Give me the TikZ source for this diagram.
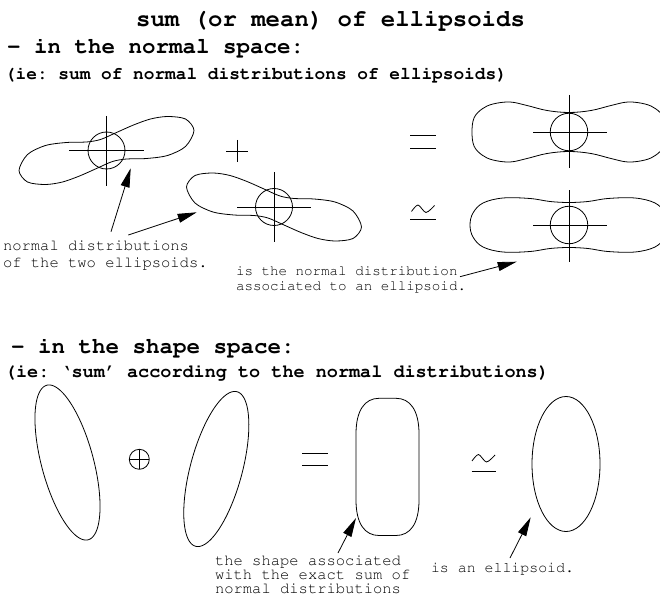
\documentclass[tikz,border=0pt]{standalone}
\usepackage[T1]{fontenc}
\usepackage{courier}
\usetikzlibrary{arrows.meta}
\frenchspacing
\begin{document}
\begin{tikzpicture}[x=1pt,y=-1pt,
  every node/.style={inner sep=0pt, outer sep=0pt},
  titlefont/.style={anchor=base, font=\ttfamily\bfseries\fontsize{24}{28}\selectfont},
  headfont/.style={anchor=base west, font=\ttfamily\bfseries\fontsize{22.5}{27}\selectfont},
  subfont/.style={anchor=base west, font=\ttfamily\bfseries\fontsize{17.8}{21}\selectfont},
  subfontb/.style={anchor=base west, font=\ttfamily\bfseries\fontsize{18.5}{22}\selectfont},
  labA/.style={anchor=base west, font=\ttfamily\fontsize{15.5}{18}\selectfont},
  labB/.style={anchor=base west, font=\ttfamily\fontsize{14.2}{17}\selectfont},
  labC/.style={anchor=base west, font=\ttfamily\fontsize{14.9}{17}\selectfont},
  curve/.style={line width=0.8pt, line join=round},
  axis/.style={line width=0.9pt},
  ptr/.style={line width=0.8pt, -{Triangle[length=19pt,width=9pt]}}
]
\useasboundingbox (0,0) rectangle (660,601);
\clip (0,0) rectangle (660,601);

% ---------- texts ----------
\node[titlefont] (title) at (330.5,27) {sum (or mean) of ellipsoids};
\node[headfont] (h1) at (7,54) {- in the normal space:};
\node[subfont] (s1) at (5,80) {(ie: sum of normal distributions of ellipsoids)};
\node[headfont] (h2) at (11,353) {- in the shape space:};
\node[subfontb] (s2) at (5,377) {(ie: `sum' according to the normal distributions)};

\node[labA] (la1) at (3,251) {normal distributions};
\node[labA] (la2) at (3,267) {of the two ellipsoids.};
\node[labB] (lb1) at (236,276) {is the normal distribution};
\node[labB] (lb2) at (236,290) {associated to an ellipsoid.};
\node[labA] (lc1) at (215,565) {the shape associated};
\node[labA] (lc2) at (215,579) {with the exact sum of};
\node[labA] (lc3) at (215,593) {normal distributions};
\node[labC] (ld1) at (431,572) {is an ellipsoid.};

% ---------- top-left normal distribution ----------
\draw[curve, shift={(106.5,150.5)}] plot[smooth cycle] coordinates {
 (-87.5,20) (-79,4) (-61,-5) (-40,-8) (-20,-8.5) (-6,-11) (10,-18) (27,-25.5)
 (44,-31.5) (61,-34) (79,-31.5) (87.5,-20) (79,-4) (61,5) (40,8) (20,8.5)
 (6,11) (-10,18) (-27,25.5) (-44,31.5) (-61,34) (-79,31.5)};
\node[circle, draw, line width=0.8pt, minimum size=37pt] (c1) at (106.5,150.5) {};
\draw[axis] (69,150.5) -- (144,150.5);
\draw[axis] (106.5,116) -- (106.5,186);

% ---------- middle normal distribution ----------
\draw[curve, shift={(274,207)}] plot[smooth cycle] coordinates {
 (-87.5,-20) (-79,-4) (-61,5) (-40,8) (-20,8.5) (-6,11) (10,18) (27,25.5)
 (44,31.5) (61,34) (79,31.5) (87.5,20) (79,4) (61,-5) (40,-8) (20,-8.5)
 (6,-11) (-10,-18) (-27,-25.5) (-44,-31.5) (-61,-34) (-79,-31.5)};
\node[circle, draw, line width=0.8pt, minimum size=37pt] (c2) at (274,207) {};
\draw[axis] (237,207) -- (311,207);
\draw[axis] (274,172.5) -- (274,242.5);

% plus
\draw[axis] (226,151) -- (248,151);
\draw[axis] (237,140) -- (237,162);

% ---------- right row 1 ----------
\draw[axis] (410,135) -- (436,135);
\draw[axis] (410,148.3) -- (436,148.3);
\draw[curve, shift={(569,132)}] plot[smooth cycle, tension=0.6] coordinates {
 (-97,0) (-95,-14) (-87,-23) (-76,-28) (-59,-30) (-42,-26.5) (-22,-21.5) (0,-19.5)
 (22,-21.5) (42,-26.5) (59,-30) (76,-28) (87,-23) (95,-14) (97,0) (95,14) (87,23)
 (76,28) (59,30) (42,26.5) (22,21.5) (0,19.5) (-22,21.5) (-42,26.5) (-59,30) (-76,28)
 (-87,23) (-95,14)};
\node[circle, draw, line width=0.8pt, minimum size=37.5pt] (c3) at (569,132) {};
\draw[axis] (533,132) -- (607,132);
\draw[axis] (569,95) -- (569,168);

% ---------- right row 2 ----------
\draw[line width=0.8pt] plot[smooth] coordinates {(411.5,211.5) (418,205) (426,212.5) (434.5,205.5)};
\draw[axis] (410,219.3) -- (436,219.3);
\draw[curve, shift={(569,225)}] plot[smooth cycle, tension=0.6] coordinates {
 (-99,0) (-96,-12) (-86,-22) (-66,-27) (-39,-26.5) (-19,-23.5) (0,-22.5)
 (19,-23.5) (39,-26.5) (66,-27) (86,-22) (96,-12) (99,0) (96,12) (86,22) (66,27)
 (39,26.5) (19,23.5) (0,22.5) (-19,23.5) (-39,26.5) (-66,27) (-86,22) (-96,12)};
\node[circle, draw, line width=0.8pt, minimum size=37.5pt] (c4) at (569,225) {};
\draw[axis] (533,225) -- (607,225);
\draw[axis] (569,190.5) -- (569,261.5);

% ---------- arrows (top) ----------
\coordinate (a1s) at (111,231.7);  \coordinate (a1e) at (130.7,168.3);
\coordinate (a2s) at (128.3,235);  \coordinate (a2e) at (196.7,212.3);
\coordinate (a3s) at (460,276.7);  \coordinate (a3e) at (516.7,261.7);
\draw[ptr] (a1s) -- (a1e);
\draw[ptr] (a2s) -- (a2e);
\draw[ptr] (a3s) -- (a3e);

% ---------- shape space ----------
\draw[curve, shift={(67.5,462.5)}] plot[domain=0:360, samples=145]
  ({26*cos(\x)*cos(15) + 80*sin(\x)*sin(15)}, {-26*cos(\x)*sin(15) + 80*sin(\x)*cos(15)}) -- cycle;
\node[circle, draw, line width=0.8pt, minimum size=20pt] (op) at (139.3,459.3) {};
\draw[line width=0.8pt] (op.west) -- (op.east);
\draw[line width=0.8pt] (op.north) -- (op.south);
\draw[curve, shift={(216.3,469)}] plot[domain=0:360, samples=145]
  ({26*cos(\x)*cos(15) - 80*sin(\x)*sin(15)}, {26*cos(\x)*sin(15) + 80*sin(\x)*cos(15)}) -- cycle;

\draw[axis] (302,453) -- (328,453);
\draw[axis] (302,465) -- (328,465);

\draw[curve] (356,466) -- (356,434) .. controls (356,410) and (365,398.3) .. (379,398.3)
  -- (396,398.3) .. controls (410,398.3) and (419,410) .. (419,434)
  -- (419,500) .. controls (419,524) and (410,535.5) .. (396,535.5)
  -- (379,535.5) .. controls (365,535.5) and (356,524) .. (356,500) -- cycle;

\draw[line width=0.8pt] plot[smooth] coordinates {(472,461) (478.5,454.5) (486.5,462) (495,455)};
\draw[axis] (471.7,471) -- (495.7,471);

\draw[curve] (566,464) ellipse [x radius=34pt, y radius=67.5pt];

\coordinate (a4s) at (338,553);  \coordinate (a4e) at (356,518);
\coordinate (a5s) at (510,558);  \coordinate (a5e) at (530.7,517.3);
\draw[ptr] (a4s) -- (a4e);
\draw[ptr] (a5s) -- (a5e);
\end{tikzpicture}
\end{document}
